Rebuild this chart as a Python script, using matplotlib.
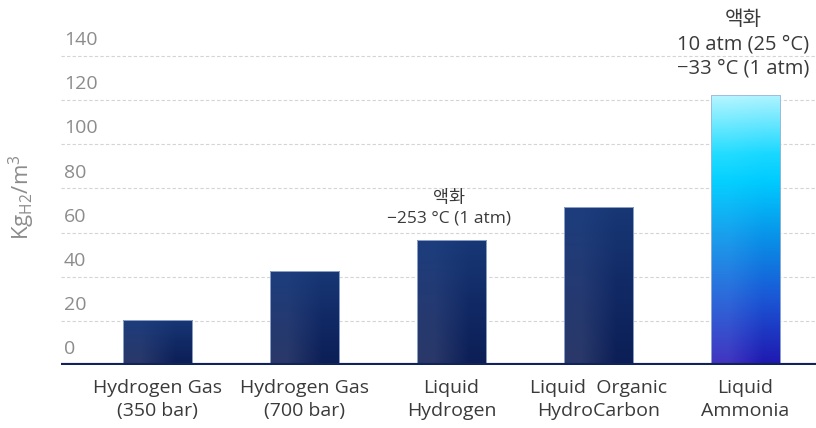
import numpy as np
import matplotlib
matplotlib.use("Agg")
import matplotlib.pyplot as plt
from matplotlib.colors import LinearSegmentedColormap

plt.rcParams["font.family"] = ["Open Sans", "Noto Sans CJK KR", "DejaVu Sans"]

categories = ["Hydrogen Gas\n(350 bar)", "Hydrogen Gas\n(700 bar)", "Liquid\nHydrogen",
              "Liquid  Organic\nHydroCarbon", "Liquid\nAmmonia"]
values = [20.5, 42.8, 56.6, 71.6, 122.4]
y_ticks = [0, 20, 40, 60, 80, 100, 120, 140]
notes = {2: "액화\n\u2212253 °C (1 atm)",
         4: "액화\n10 atm (25 °C)\n\u221233 °C (1 atm)"}
note_sizes = {2: 12.5, 4: 14.5}
note_offsets = {2: 10, 4: 11.5}

GRAY = "#8c8c8c"
TEXT = "#3a3a3a"
NAVY = "#10235a"

# vertical gradients (top -> bottom) for left / right half of each bar
navy_left = LinearSegmentedColormap.from_list("nl", ["#1c3d7d", "#243a72", "#2a3868"])
navy_right = LinearSegmentedColormap.from_list("nr", ["#183775", "#112a66", "#0c1e55"])
amm_left = LinearSegmentedColormap.from_list(
    "al", [(0, "#b6f6ff"), (0.22, "#22dcff"), (0.32, "#04d0ff"), (0.55, "#1c98ea"),
           (0.75, "#2c6ada"), (1, "#4234c0")])
amm_right = LinearSegmentedColormap.from_list(
    "ar", [(0, "#b0f4ff"), (0.22, "#18d8ff"), (0.32, "#00cbff"), (0.55, "#0a8ce6"),
           (0.75, "#1a58d6"), (1, "#2018b0")])


def gradient_img(cmap_l, cmap_r, n=200):
    t = np.linspace(0, 1, n)
    left = cmap_l(t)[:, :3]
    right = cmap_r(t)[:, :3]
    return np.stack([left, right], axis=1)


fig = plt.figure(figsize=(8.16, 4.28), dpi=100)
ax = fig.add_axes([61 / 816, 1 - 365 / 428, 1 - 61 / 816, 365 / 428])

x = np.arange(len(categories))
width = 0.47
bars = ax.bar(x, values, width, color="none", edgecolor="#9fb3d8", linewidth=0.6, zorder=3)

for i, b in enumerate(bars):
    if i == 4:
        img = gradient_img(amm_left, amm_right)
    else:
        img = gradient_img(navy_left, navy_right)
    x0, y0 = b.get_x(), b.get_y()
    im = ax.imshow(img, extent=[x0, x0 + b.get_width(), y0, y0 + b.get_height()],
                   aspect="auto", origin="upper", zorder=2, interpolation="bilinear")
    im.set_clip_path(b)

for i, txt in notes.items():
    ax.annotate(txt, (x[i], values[i]), xytext=(-1.5, note_offsets[i]),
                textcoords="offset points", ha="center", va="bottom",
                fontsize=note_sizes[i], color=TEXT, linespacing=1.3)

ax.set_xlim(-0.656, 4.48)
ax.set_ylim(0, 165.4)

for v in y_ticks[1:]:
    ax.axhline(v, color="#d4d4d4", lw=0.8, ls=(0, (3, 2)), zorder=1)
ax.axhline(0, color=NAVY, lw=3, zorder=4)

ax.set_yticks(y_ticks)
ax.set_yticklabels([])
for v in y_ticks:
    ax.text(0.004, v + 7.2, str(v), transform=ax.get_yaxis_transform(),
            ha="left", va="center", fontsize=14, color=GRAY)

ax.set_xticks(x, categories)
ax.tick_params(axis="x", length=0, pad=10, labelsize=14, labelcolor=TEXT)
ax.tick_params(axis="y", length=0)
for lab in ax.get_xticklabels():
    lab.set_linespacing(1.35)

for s in ax.spines.values():
    s.set_visible(False)

fig.text(22 / 816, 1 - 197 / 428, r"Kg$_{\mathregular{H2}}$/m$^{\mathregular{3}}$",
         rotation=90, ha="center", va="center", fontsize=16, color=GRAY)

fig.savefig("out.png", dpi=100)
